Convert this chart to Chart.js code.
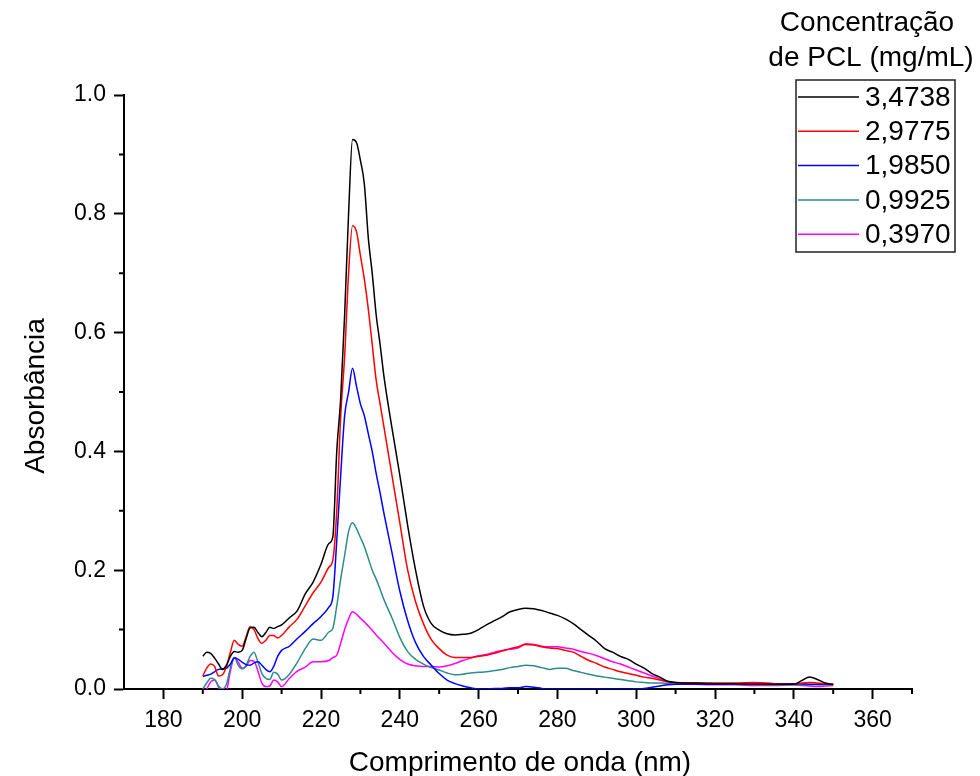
<!DOCTYPE html>
<html>
<head>
<meta charset="utf-8">
<script src="https://cdn.jsdelivr.net/npm/chart.js@4.4.1/dist/chart.umd.min.js"></script>
<style>
  html, body { margin: 0; padding: 0; background: #ffffff; }
  #wrap { width: 980px; height: 776px; position: relative; }
</style>
</head>
<body>
<div id="wrap"><canvas id="c" width="980" height="776"></canvas></div>
<script>
// ---------- data ----------
const wavelength = [190,191,192,193,194,195,196,197,198,199,200,201,202,203,204,205,206,207,208,209,210,
  212,214,216,218,220,222,
  223,224,225,226,227,228,229,230,231,232,233,234,235,236,
  238,240,242,244,246,248,250,252,254,256,258,260,262,264,266,268,270,272,274,276,278,280,282,284,286,288,290,292,294,296,298,300,302,304,306,308,310,
  315,320,325,330,335,340,
  342,344,346,348,350];

const seriesLabels = ["3,4738", "2,9775", "1,9850", "0,9925", "0,3970"];
const seriesColors = ["#000000", "#ff0000", "#0000ff", "#2f8b8b", "#ff00ff"];

const abs34738 = [0.055,0.062,0.060,0.052,0.042,0.033,0.040,0.055,0.063,0.062,0.065,0.085,0.103,0.104,0.095,0.088,0.095,0.104,0.102,0.105,0.108,
  0.120,0.132,0.160,0.180,0.210,0.245,
  0.256,0.40,0.49,0.63,0.80,0.925,0.92,0.89,0.85,0.76,0.70,0.63,0.58,0.525,
  0.44,0.36,0.275,0.20,0.14,0.11,0.099,0.093,0.091,0.092,0.094,0.100,0.108,0.115,0.122,0.130,0.134,0.136,0.135,0.132,0.128,0.124,0.118,0.110,0.100,0.090,0.080,0.068,0.062,0.055,0.050,0.042,0.035,0.026,0.020,0.013,0.011,
  0.010,0.009,0.009,0.008,0.008,0.008,
  0.014,0.020,0.016,0.010,0.007];

const abs29775 = [0.022,0.035,0.042,0.038,0.022,0.024,0.038,0.062,0.082,0.075,0.072,0.088,0.105,0.100,0.085,0.077,0.082,0.090,0.090,0.086,0.090,
  0.105,0.118,0.140,0.162,0.180,0.205,
  0.217,0.30,0.46,0.56,0.70,0.78,0.77,0.73,0.69,0.64,0.58,0.52,0.48,0.44,
  0.36,0.28,0.20,0.147,0.11,0.083,0.068,0.057,0.053,0.053,0.053,0.055,0.057,0.060,0.064,0.068,0.071,0.075,0.074,0.071,0.069,0.068,0.065,0.062,0.055,0.048,0.043,0.037,0.033,0.029,0.026,0.023,0.020,0.018,0.015,0.012,0.011,
  0.010,0.010,0.010,0.011,0.009,0.008,
  0.010,0.011,0.010,0.009,0.009];

const abs19850 = [0.021,0.023,0.025,0.029,0.033,0.034,0.035,0.042,0.052,0.050,0.045,0.041,0.040,0.044,0.046,0.040,0.033,0.029,0.038,0.055,0.065,
  0.072,0.085,0.097,0.110,0.122,0.138,
  0.155,0.25,0.36,0.46,0.50,0.54,0.51,0.48,0.46,0.43,0.40,0.363,0.33,0.295,
  0.23,0.165,0.115,0.078,0.055,0.040,0.026,0.015,0.009,0.005,0.002,0.000,0.000,0.001,0.001,0.002,0.002,0.004,0.003,0.001,0.000,0.000,0.000,0.000,0.000,0.000,0.000,0.000,0.000,0.000,0.000,0.000,0.001,0.003,0.005,0.007,0.008,
  0.008,0.008,0.009,0.008,0.009,0.009,
  0.009,0.008,0.008,0.008,0.009];

const abs09925 = [0.000,0.010,0.018,0.016,0.005,0.000,0.008,0.035,0.053,0.040,0.034,0.040,0.055,0.062,0.045,0.026,0.018,0.016,0.028,0.025,0.015,
  0.025,0.045,0.068,0.084,0.082,0.096,
  0.102,0.14,0.185,0.225,0.265,0.28,0.27,0.255,0.24,0.22,0.20,0.185,0.168,0.15,
  0.12,0.087,0.063,0.050,0.042,0.036,0.032,0.027,0.024,0.025,0.027,0.028,0.029,0.031,0.033,0.036,0.038,0.040,0.039,0.036,0.033,0.035,0.035,0.031,0.028,0.025,0.022,0.020,0.018,0.016,0.014,0.012,0.011,0.010,0.010,0.009,0.009,
  0.008,0.008,0.008,0.008,0.007,0.007,
  0.007,0.007,0.007,0.007,0.008];

const abs03970 = [-0.010,0.000,0.012,0.015,0.003,-0.015,-0.005,0.030,0.053,0.045,0.035,0.038,0.048,0.047,0.030,0.010,0.004,0.005,0.015,0.012,0.004,
  0.018,0.030,0.037,0.046,0.046,0.048,
  0.053,0.057,0.077,0.10,0.118,0.130,0.126,0.119,0.113,0.106,0.099,0.091,0.084,0.077,
  0.062,0.050,0.042,0.039,0.038,0.038,0.037,0.039,0.043,0.048,0.052,0.056,0.058,0.062,0.065,0.067,0.069,0.076,0.075,0.072,0.071,0.071,0.069,0.067,0.063,0.060,0.056,0.051,0.046,0.042,0.037,0.032,0.027,0.022,0.017,0.012,0.010,
  0.008,0.007,0.007,0.006,0.006,0.007,
  0.006,0.005,0.004,0.005,0.006];

const seriesValues = [abs34738, abs29775, abs19850, abs09925, abs03970];

const xTickLabels = [180, 200, 220, 240, 260, 280, 300, 320, 340, 360];
const yTickLabels = ["0.0", "0.2", "0.4", "0.6", "0.8", "1.0"];

const xTitle = "Comprimento de onda (nm)";
const yTitle = "Absorbância";
const legendTitle = ["Concentração", "de PCL (mg/mL)"];

// ---------- chart ----------
const FONT = "'Liberation Sans', Arial, sans-serif";

const datasets = seriesValues.map((vals, i) => ({
  label: seriesLabels[i],
  data: wavelength.map((w, j) => ({ x: w, y: vals[j] })),
  borderColor: seriesColors[i],
  backgroundColor: seriesColors[i],
  borderWidth: 1.5,
  pointRadius: 0,
  cubicInterpolationMode: 'monotone',
  fill: false
}));

const extras = {
  id: 'extras',
  afterDraw(chart) {
    const ctx = chart.ctx;
    const xs = chart.scales.x, ys = chart.scales.y;
    const area = chart.chartArea;
    ctx.save();
    // minor ticks
    ctx.strokeStyle = '#000';
    ctx.lineWidth = 2;
    ctx.beginPath();
    for (let v = 190; v <= 370; v += 20) {
      const px = xs.getPixelForValue(v);
      ctx.moveTo(px, area.bottom); ctx.lineTo(px, area.bottom + 5);
    }
    for (let k = 1; k < 10; k += 2) {
      const py = ys.getPixelForValue(k / 10);
      ctx.moveTo(area.left, py); ctx.lineTo(area.left - 5, py);
    }
    ctx.stroke();

    // axis titles
    ctx.fillStyle = '#000';
    ctx.font = '28px ' + FONT;
    ctx.textAlign = 'center';
    ctx.textBaseline = 'middle';
    ctx.fillText(xTitle, (area.left + area.right) / 2 + 2, 763);
    ctx.save();
    ctx.translate(36, (area.top + area.bottom) / 2 + 4);
    ctx.rotate(-Math.PI / 2);
    ctx.fillText(yTitle, 0, 0);
    ctx.restore();

    // legend title
    ctx.font = '28px ' + FONT;
    ctx.fillText(legendTitle[0], 867, 23);
    ctx.fillText(legendTitle[1], 871, 58);

    // legend box
    const bx = 796, by = 80, bw = 159, bh = 172;
    ctx.lineWidth = 1.5;
    ctx.strokeStyle = '#222';
    ctx.strokeRect(bx, by, bw, bh);
    ctx.textAlign = 'left';
    ctx.font = '28px ' + FONT;
    chart.data.datasets.forEach((ds, i) => {
      const cy = 97 + i * 34.3;
      ctx.strokeStyle = ds.borderColor;
      ctx.lineWidth = 1.5;
      ctx.beginPath();
      ctx.moveTo(798, cy); ctx.lineTo(859, cy);
      ctx.stroke();
      ctx.fillStyle = '#000';
      ctx.fillText(ds.label, 865, cy + 1);
    });
    ctx.restore();
  }
};

new Chart(document.getElementById('c'), {
  type: 'line',
  data: { datasets },
  options: {
    responsive: false,
    animation: false,
    devicePixelRatio: 1,
    layout: { padding: { left: 0, top: 95, right: 68, bottom: 0 } },
    plugins: { legend: { display: false }, tooltip: { enabled: false }, title: { display: false } },
    scales: {
      x: {
        type: 'linear',
        min: 170, max: 370,
        afterBuildTicks(s) { s.ticks = xTickLabels.map(v => ({ value: v })); },
        afterFit(s) { s.height = 87; },
        ticks: {
          autoSkip: false,
          maxRotation: 0,
          padding: 8,
          color: '#000',
          font: { family: FONT, size: 23 },
          callback: (v) => String(v)
        },
        grid: { display: true, drawOnChartArea: false, drawTicks: true, tickLength: 10, tickWidth: 2, tickColor: '#000' },
        border: { display: true, color: '#000', width: 2 }
      },
      y: {
        type: 'linear',
        min: 0, max: 1.0,
        afterBuildTicks(s) { s.ticks = yTickLabels.map(t => ({ value: parseFloat(t) })); },
        afterFit(s) { s.width = 124; },
        ticks: {
          autoSkip: false,
          padding: 8,
          color: '#000',
          font: { family: FONT, size: 23 },
          callback: (v) => yTickLabels[Math.round(v / 0.2)]
        },
        grid: { display: true, drawOnChartArea: false, drawTicks: true, tickLength: 10, tickWidth: 2, tickColor: '#000' },
        border: { display: true, color: '#000', width: 2 }
      }
    }
  },
  plugins: [extras]
});
</script>
</body>
</html>
